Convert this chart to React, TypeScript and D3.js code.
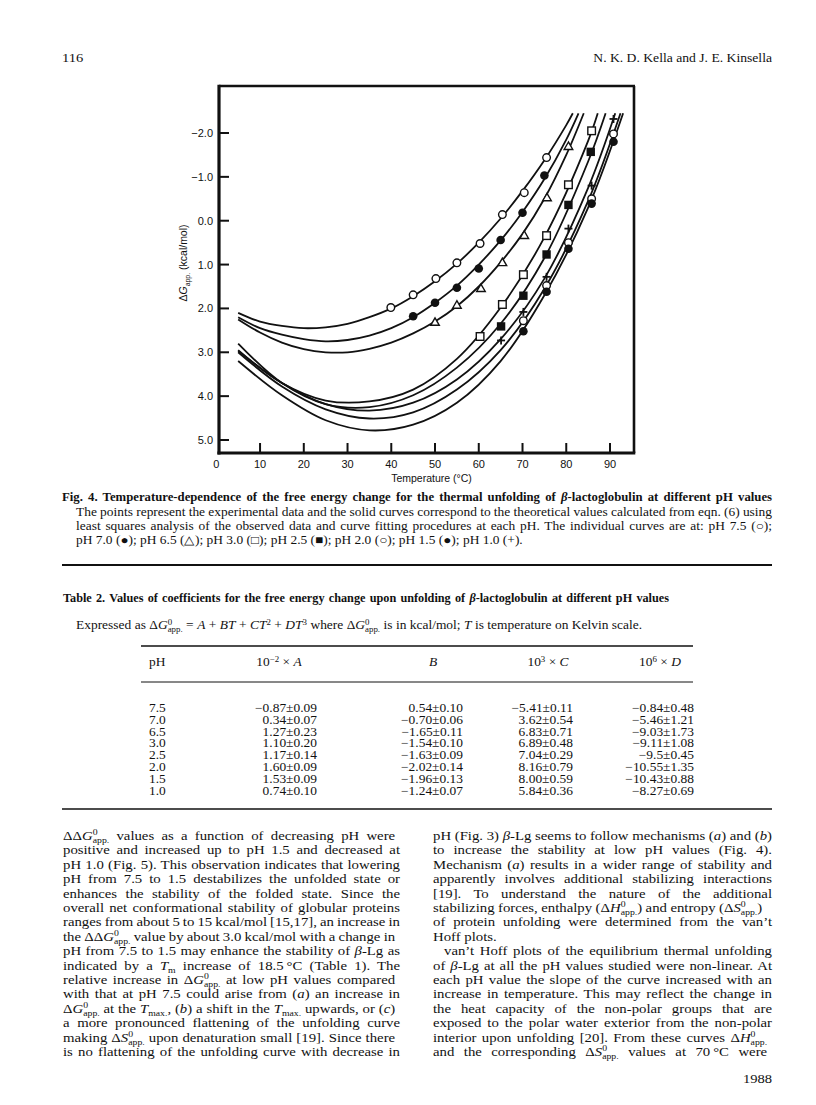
import React, { useLayoutEffect, useRef } from 'react';
import * as d3 from 'd3';

// ---------------- chart data ----------------
const xTickValues = [0, 10, 20, 30, 40, 50, 60, 70, 80, 90];
const yTickValues = [-2, -1, 0, 1, 2, 3, 4, 5];
const yTickLabels = ['−2.0', '−1.0', '0.0', '1.0', '2.0', '3.0', '4.0', '5.0'];

const seriesPH = ['7.5', '7.0', '6.5', '3.0', '2.5', '2.0', '1.5', '1.0'];
const seriesMarker = ['open-circle', 'filled-circle', 'open-triangle', 'open-square', 'filled-square', 'open-circle', 'filled-circle', 'plus'];

// fitted curves: temperature (°C) and ΔG (kcal/mol)
const curveT75 = [5, 10, 15, 20, 25, 30, 35, 40, 45, 50, 55, 60, 65, 70, 75, 80, 81.5];
const curveG75 = [2.1, 2.3, 2.4, 2.45, 2.43, 2.35, 2.2, 2.0, 1.72, 1.38, 0.98, 0.5, -0.05, -0.68, -1.38, -2.18, -2.45];
const curveT70 = [5, 10, 15, 20, 25, 30, 35, 40, 45, 50, 55, 60, 65, 70, 75, 80, 82.8];
const curveG70 = [2.2, 2.45, 2.6, 2.7, 2.75, 2.72, 2.62, 2.45, 2.2, 1.87, 1.48, 1.0, 0.45, -0.2, -0.95, -1.85, -2.45];
const curveT65 = [5, 10, 15, 20, 25, 30, 35, 40, 45, 50, 55, 60, 65, 70, 75, 80, 84];
const curveG65 = [2.25, 2.55, 2.78, 2.93, 3.0, 3.0, 2.92, 2.78, 2.57, 2.3, 1.95, 1.5, 0.95, 0.3, -0.5, -1.5, -2.45];
const curveT30 = [5, 15, 25, 35, 45, 55, 65, 75, 85, 87.2];
const curveG30 = [2.95, 3.7, 4.1, 4.12, 3.85, 3.15, 1.98, 0.38, -1.82, -2.45];
const curveT25 = [5, 15, 25, 35, 45, 55, 65, 75, 85, 89];
const curveG25 = [2.8, 3.7, 4.18, 4.25, 3.98, 3.35, 2.35, 0.85, -1.35, -2.45];
const curveT20 = [5, 15, 25, 35, 45, 55, 65, 75, 85, 92.4];
const curveG20 = [3.0, 3.78, 4.3, 4.51, 4.37, 3.85, 2.95, 1.55, -0.45, -2.45];
const curveT15 = [5, 15, 25, 35, 45, 55, 65, 75, 85, 93];
const curveG15 = [3.2, 3.98, 4.55, 4.78, 4.65, 4.15, 3.2, 1.7, -0.3, -2.45];
const curveT10 = [5, 15, 25, 35, 45, 55, 65, 75, 85, 91.2];
const curveG10 = [2.97, 3.7, 4.18, 4.33, 4.15, 3.62, 2.7, 1.32, -0.75, -2.45];

// experimental points
const ptsT75 = [39.9, 45, 50.2, 55, 60.3, 65.4, 70.4, 75.5];
const ptsG75 = [1.98, 1.69, 1.32, 0.96, 0.52, -0.14, -0.64, -1.44];
const ptsT70 = [45, 50, 55, 60, 65, 70, 75];
const ptsG70 = [2.18, 1.87, 1.53, 1.09, 0.44, -0.18, -1.03];
const ptsT65 = [50, 55, 60.5, 65.4, 70.4, 75.6, 80.5];
const ptsG65 = [2.32, 1.93, 1.55, 0.96, 0.34, -0.52, -1.69];
const ptsT30 = [60.3, 65.4, 70.2, 75.5, 80.5, 85.8];
const ptsG30 = [2.64, 1.91, 1.23, 0.34, -0.82, -2.05];
const ptsT25 = [65.1, 70.2, 75.5, 80.5, 85.6];
const ptsG25 = [2.41, 1.71, 0.77, -0.36, -1.57];
const ptsT20 = [70.2, 75.5, 80.5, 85.8, 90.8];
const ptsG20 = [2.28, 1.48, 0.5, -0.5, -1.98];
const ptsT15 = [70.2, 75.5, 80.5, 85.8, 90.8];
const ptsG15 = [2.52, 1.62, 0.64, -0.39, -1.8];
const ptsT10 = [65.1, 70.2, 75.5, 80.5, 85.8, 90.8];
const ptsG10 = [2.73, 2.08, 1.28, 0.18, -0.8, -2.32];

const curvesT = [curveT75, curveT70, curveT65, curveT30, curveT25, curveT20, curveT15, curveT10];
const curvesG = [curveG75, curveG70, curveG65, curveG30, curveG25, curveG20, curveG15, curveG10];
const pointsT = [ptsT75, ptsT70, ptsT65, ptsT30, ptsT25, ptsT20, ptsT15, ptsT10];
const pointsG = [ptsG75, ptsG70, ptsG65, ptsG30, ptsG25, ptsG20, ptsG15, ptsG10];

// ---------------- table data ----------------
const tablePH = ['7.5', '7.0', '6.5', '3.0', '2.5', '2.0', '1.5', '1.0'];
const colA = ['−0.87±0.09', '0.34±0.07', '1.27±0.23', '1.10±0.20', '1.17±0.14', '1.60±0.09', '1.53±0.09', '0.74±0.10'];
const colB = ['0.54±0.10', '−0.70±0.06', '−1.65±0.11', '−1.54±0.10', '−1.63±0.09', '−2.02±0.14', '−1.96±0.13', '−1.24±0.07'];
const colC = ['−5.41±0.11', '3.62±0.54', '6.83±0.71', '6.89±0.48', '7.04±0.29', '8.16±0.79', '8.00±0.59', '5.84±0.36'];
const colD = ['−0.84±0.48', '−5.46±1.21', '−9.03±1.73', '−9.11±1.08', '−9.5±0.45', '−10.55±1.35', '−10.43±0.88', '−8.27±0.69'];
const tableHeaders = ['pH', '10^−2^ × *A*', '*B*', '10^3^ × *C*', '10^6^ × *D*'];

// ---------------- texts ----------------
const captionTitle = 'Fig. 4. Temperature-dependence of the free energy change for the thermal unfolding of *β*-lactoglobulin at different pH values';
const captionLines = [
  'The points represent the experimental data and the solid curves correspond to the theoretical values calculated from eqn. (6) using',
  'least squares analysis of the observed data and curve fitting procedures at each pH. The individual curves are at: pH 7.5 (○);',
  'pH 7.0 (●); pH 6.5 (△); pH 3.0 (□); pH 2.5 (■); pH 2.0 (○); pH 1.5 (●); pH 1.0 (+).',
];
const tableTitle = 'Table 2. Values of coefficients for the free energy change upon unfolding of *β*-lactoglobulin at different pH values';
const tableNote = 'Expressed as Δ*G*^0^~app.~ = *A* + *BT* + *CT*^2^ + *DT*^3^ where Δ*G*^0^~app.~ is in kcal/mol; *T* is temperature on Kelvin scale.';

const leftCol = [
  'ΔΔ*G*^0^~app.~ values as a function of decreasing pH were',
  'positive and increased up to pH 1.5 and decreased at',
  'pH 1.0 (Fig. 5). This observation indicates that lowering',
  'pH from 7.5 to 1.5 destabilizes the unfolded state or',
  'enhances the stability of the folded state. Since the',
  'overall net conformational stability of globular proteins',
  'ranges from about 5 to 15 kcal/mol [15,17], an increase in',
  'the ΔΔ*G*^0^~app.~ value by about 3.0 kcal/mol with a change in',
  'pH from 7.5 to 1.5 may enhance the stability of *β*-Lg as',
  'indicated by a *T*~m~ increase of 18.5\u2009°C (Table 1). The',
  'relative increase in Δ*G*^0^~app.~ at low pH values compared',
  'with that at pH 7.5 could arise from (*a*) an increase in',
  'Δ*G*^0^~app.~ at the *T*~max.~, (*b*) a shift in the *T*~max.~ upwards, or (*c*)',
  'a more pronounced flattening of the unfolding curve',
  'making Δ*S*^0^~app.~ upon denaturation small [19]. Since there',
  'is no flattening of the unfolding curve with decrease in',
];
const rightCol = [
  'pH (Fig. 3) *β*-Lg seems to follow mechanisms (*a*) and (*b*)',
  'to increase the stability at low pH values (Fig. 4).',
  'Mechanism (*a*) results in a wider range of stability and',
  'apparently involves additional stabilizing interactions',
  '[19]. To understand the nature of the additional',
  'stabilizing forces, enthalpy (Δ*H*^0^~app.~) and entropy (Δ*S*^0^~app.~)',
  'of protein unfolding were determined from the van’t',
  'Hoff plots.',
  'van’t Hoff plots of the equilibrium thermal unfolding',
  'of *β*-Lg at all the pH values studied were non-linear. At',
  'each pH value the slope of the curve increased with an',
  'increase in temperature. This may reflect the change in',
  'the heat capacity of the non-polar groups that are',
  'exposed to the polar water exterior from the non-polar',
  'interior upon unfolding [20]. From these curves Δ*H*^0^~app.~',
  'and the corresponding Δ*S*^0^~app.~ values at 70\u2009°C were',
];
const rightNoJustify = [7];
const rightIndent = [8];

// ---------------- rich text ----------------
type Seg = { t: string; i: boolean; mode: 'n' | 'sup' | 'sub' };
function parse(s: string): Seg[] {
  const segs: Seg[] = [];
  let it = false;
  let mode: 'n' | 'sup' | 'sub' = 'n';
  let buf = '';
  const push = () => {
    if (buf) { segs.push({ t: buf, i: it, mode }); buf = ''; }
  };
  for (const ch of s) {
    if (ch === '*') { push(); it = !it; }
    else if (ch === '^') { push(); mode = mode === 'sup' ? 'n' : 'sup'; }
    else if (ch === '~') { push(); mode = mode === 'sub' ? 'n' : 'sub'; }
    else buf += ch;
  }
  push();
  return segs;
}

const SERIF = '"Liberation Serif", "Times New Roman", serif';
const SANS = '"Liberation Sans", Arial, Helvetica, sans-serif';
const WIDE = 1.12; // the original typeface sets wider than Times

function Rich(props: { x: number; y: number; text: string; size: number; bold?: boolean; width?: number; anchor?: string; family?: string; rotate?: number; sx?: number }) {
  const { x, y, text, size, bold, width, anchor, family, rotate } = props;
  const sx = props.sx ?? 1;
  const segs = parse(text);
  let cur = 0;
  let prevSup = '';
  const spans = segs.map((s, k) => {
    const target = s.mode === 'sup' ? -0.36 * size : s.mode === 'sub' ? 0.26 * size : 0;
    const dy = target - cur;
    cur = target;
    let dx = 0;
    if (s.mode === 'sub' && prevSup) dx = -prevSup.length * 0.5 * 0.66 * size;
    prevSup = s.mode === 'sup' ? s.t : '';
    return (
      <tspan key={k} dy={dy || undefined} dx={dx || undefined}
        fontStyle={s.i ? 'italic' : undefined}
        fontSize={s.mode === 'n' ? undefined : size * 0.66}>{s.t}</tspan>
    );
  });
  const tr = rotate ? `translate(${x},${y}) rotate(${rotate})` : `translate(${x},${y}) scale(${sx},1)`;
  return (
    <g transform={tr}>
      <text x={0} y={0} fontSize={size} fontFamily={family || SERIF} fontWeight={bold ? 'bold' : 'normal'}
        textAnchor={anchor || 'start'} data-jw={width ? width / sx : undefined} fill="#111">{spans}</text>
    </g>
  );
}

// ---------------- chart ----------------
const xScale = d3.scaleLinear().domain([0, 90]).range([216.3, 610]);
const yScale = d3.scaleLinear().domain([-2, 5]).range([133, 440]);
const frame = { left: 219, right: 634, top: 86, bottom: 453 };

function Marker({ kind, cx, cy }: { kind: string; cx: number; cy: number }) {
  const r = 3.8;
  const sw = 1.4;
  if (kind === 'open-circle') return <circle cx={cx} cy={cy} r={r} fill="#fff" stroke="#111" strokeWidth={sw} />;
  if (kind === 'filled-circle') return <circle cx={cx} cy={cy} r={r + 0.5} fill="#111" />;
  if (kind === 'open-square') return <rect x={cx - 3.8} y={cy - 3.8} width={7.6} height={7.6} fill="#fff" stroke="#111" strokeWidth={sw} />;
  if (kind === 'filled-square') return <rect x={cx - 4.2} y={cy - 4.2} width={8.4} height={8.4} fill="#111" />;
  if (kind === 'open-triangle') {
    const s = 8.6, h = s * 0.866;
    const pts = [[cx, cy - h * 0.62], [cx - s / 2, cy + h * 0.38], [cx + s / 2, cy + h * 0.38]];
    return <polygon points={pts.map(p => p.join(',')).join(' ')} fill="#fff" stroke="#111" strokeWidth={sw} strokeLinejoin="miter" />;
  }
  return (
    <g stroke="#111" strokeWidth={1.8}>
      <line x1={cx - 4} x2={cx + 4} y1={cy} y2={cy} />
      <line x1={cx} x2={cx} y1={cy - 4} y2={cy + 4} />
    </g>
  );
}

function Chart() {
  const line = d3.line<[number, number]>()
    .x(d => xScale(d[0]))
    .y(d => yScale(d[1]))
    .curve(d3.curveCatmullRom.alpha(0.5));
  return (
    <g>
      {curvesT.map((ts, i) => (
        <path key={'c' + i} d={line(ts.map((t, k) => [t, curvesG[i][k]] as [number, number])) || ''}
          fill="none" stroke="#111" strokeWidth={1.8} />
      ))}
      {pointsT.map((ts, i) => ts.map((t, k) => (
        <Marker key={'p' + i + '_' + k} kind={seriesMarker[i]} cx={xScale(t)} cy={yScale(pointsG[i][k])} />
      )))}
      <line x1={frame.left} x2={frame.right + 1} y1={frame.top} y2={frame.top} stroke="#111" strokeWidth={2.6} />
      <line x1={frame.right} x2={frame.right} y1={frame.top} y2={frame.bottom} stroke="#111" strokeWidth={2.6} />
      <line x1={frame.left} x2={frame.left} y1={frame.top - 1.3} y2={frame.bottom + 1.5} stroke="#111" strokeWidth={3.2} />
      <line x1={frame.left - 1.6} x2={frame.right + 1.3} y1={frame.bottom} y2={frame.bottom} stroke="#111" strokeWidth={3.2} />
      {yTickValues.map((v, i) => (
        <g key={'yt' + v}>
          <line x1={frame.left} x2={frame.left + 10} y1={yScale(v)} y2={yScale(v)} stroke="#111" strokeWidth={2} />
          <text x={213} y={yScale(v) + 4} textAnchor="end" fontSize={11} fontFamily={SANS} fill="#111">{yTickLabels[i]}</text>
        </g>
      ))}
      {xTickValues.map(v => (
        <g key={'xt' + v}>
          {v > 0 && <line x1={xScale(v)} x2={xScale(v)} y1={frame.bottom} y2={frame.bottom - 10} stroke="#111" strokeWidth={2} />}
          <text x={xScale(v)} y={468} textAnchor="middle" fontSize={11} fontFamily={SANS} fill="#111">{v}</text>
        </g>
      ))}
      <text x={431.5} y={482} textAnchor="middle" fontSize={10.5} fontFamily={SANS} fill="#111">Temperature (°C)</text>
      <Rich x={187} y={263} text={'Δ*G*~app.~ (kcal/mol)'} size={10.5} family={SANS} anchor="middle" rotate={-90} />
    </g>
  );
}

// ---------------- page ----------------
const L = 62, R = 772;
const colL = { x: 63, w: 337 };
const colR = { x: 433, w: 339 };
const bodyY0 = 840, bodyDY = 14.4;
const rowY0 = 712, rowDY = 11.8;
const colRight = [317, 463, 573, 694];
const headerX = [149, 279, 433, 548, 660];

export default function App() {
  const ref = useRef<SVGSVGElement>(null);
  useLayoutEffect(() => {
    const run = () => {
      const svg = ref.current;
      if (!svg) return;
      svg.querySelectorAll('text[data-jw]').forEach((node) => {
        const el = node as SVGTextElement;
        el.style.wordSpacing = '0px';
        const target = parseFloat(el.getAttribute('data-jw') || '0');
        const w = el.getComputedTextLength();
        const n = ((el.textContent || '').match(/ /g) || []).length;
        if (n > 0 && target > 0) el.style.wordSpacing = ((target - w) / n) + 'px';
      });
    };
    run();
    if ((document as any).fonts && (document as any).fonts.ready) (document as any).fonts.ready.then(run);
  }, []);

  return (
    <svg ref={ref} width={816} height={1105} viewBox="0 0 816 1105"
      style={{ position: 'absolute', left: 0, top: 0, background: '#fff' }}>
      <rect x={0} y={0} width={816} height={1105} fill="#fff" />
      <Rich x={L} y={62} text="116" size={13} sx={WIDE} />
      <Rich x={R} y={62} text="N. K. D. Kella and J. E. Kinsella" size={13} anchor="end" sx={1.05} />

      <Chart />

      <Rich x={L} y={501} text={captionTitle} size={12.5} bold width={R - L} sx={1.02} />
      {captionLines.map((t, i) => (
        <Rich key={'cap' + i} x={76} y={515.5 + i * 14.3} text={t} size={12} sx={WIDE} width={i < 2 ? R - 76 : undefined} />
      ))}
      <line x1={L} x2={R} y1={565} y2={565} stroke="#111" strokeWidth={2} />

      <Rich x={63} y={602} text={tableTitle} size={12} bold width={606} sx={1.02} />
      <Rich x={76} y={629} text={tableNote} size={12} width={575} sx={WIDE} />
      <line x1={141} x2={693} y1={646} y2={646} stroke="#111" strokeWidth={1.4} />
      {tableHeaders.map((h, i) => (
        <Rich key={'th' + i} x={headerX[i]} y={666} text={h} size={12} sx={WIDE} anchor={i === 0 ? 'start' : 'middle'} />
      ))}
      <line x1={141} x2={693} y1={682} y2={682} stroke="#111" strokeWidth={1} />
      {tablePH.map((p, r) => (
        <g key={'row' + r}>
          <Rich x={headerX[0]} y={rowY0 + r * rowDY} text={p} size={12} sx={WIDE} />
          <Rich x={colRight[0]} y={rowY0 + r * rowDY} text={colA[r]} size={12} sx={WIDE} anchor="end" />
          <Rich x={colRight[1]} y={rowY0 + r * rowDY} text={colB[r]} size={12} sx={WIDE} anchor="end" />
          <Rich x={colRight[2]} y={rowY0 + r * rowDY} text={colC[r]} size={12} sx={WIDE} anchor="end" />
          <Rich x={colRight[3]} y={rowY0 + r * rowDY} text={colD[r]} size={12} sx={WIDE} anchor="end" />
        </g>
      ))}
      <line x1={L} x2={R} y1={809} y2={809} stroke="#111" strokeWidth={1.4} />

      {leftCol.map((t, i) => (
        <Rich key={'l' + i} x={colL.x} y={bodyY0 + i * bodyDY} text={t} size={13.2} sx={WIDE} width={colL.w} />
      ))}
      {rightCol.map((t, i) => {
        const ind = rightIndent.includes(i) ? 11 : 0;
        return (
          <Rich key={'r' + i} x={colR.x + ind} y={bodyY0 + i * bodyDY} text={t} size={13.2} sx={WIDE}
            width={rightNoJustify.includes(i) ? undefined : colR.w - ind} />
        );
      })}
      <Rich x={R} y={1083} text="1988" size={13} sx={WIDE} anchor="end" />
    </svg>
  );
}
